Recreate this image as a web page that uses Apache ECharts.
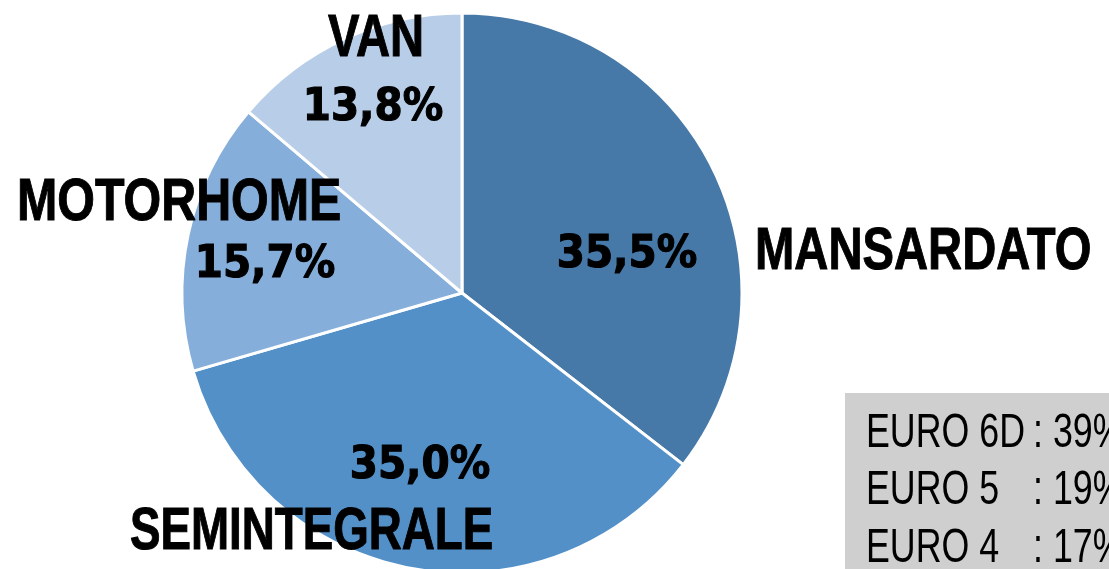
<!DOCTYPE html>
<html>
<head>
<meta charset="utf-8">
<script src="https://cdn.jsdelivr.net/npm/echarts@6/dist/echarts.min.js"></script>
<style>
html, body { margin: 0; padding: 0; background: #fff; }
#chart { width: 1109px; height: 569px; }
</style>
</head>
<body>
<div id="chart"></div>
<script>
// data
var categories = ['MANSARDATO', 'SEMINTEGRALE', 'MOTORHOME', 'VAN']
var shares = [35.5, 35.0, 15.7, 13.8]
var euroLabels = ['EURO 6D', 'EURO 5', 'EURO 4']
var euroValues = ['39%', '19%', '17%']

var colors = ['#4679a8', '#5390c8', '#85aedb', '#b8cde8']

function pct(v) {
    return v.toFixed(1).replace('.', ',') + '%'
}

// label placement per slice: [name x, name y, name align, name scale, pct x, pct y]
var labelPos = [
    [755, 253, 'left', 0.8, 627, 256],
    [130, 533, 'left', 0.775, 420, 467],
    [17, 204, 'left', 0.82, 265, 266],
    [376, 40, 'center', 0.8, 373, 109]
]

function txt(x, y, s, family, size, weight, align, sx, stroke) {
    return {
        type: 'text', x: x, y: y, z: 10, scaleX: sx,
        style: {
            text: s, fontFamily: family, fontSize: size, fontWeight: weight,
            fill: '#000', textAlign: align, textVerticalAlign: 'middle',
            stroke: stroke ? '#000' : null, lineWidth: stroke || 0
        }
    }
}

var chart = echarts.init(document.getElementById('chart'))

var graphic = [
    {
        type: 'rect',
        shape: { x: 845, y: 393, width: 300, height: 200 },
        style: { fill: '#d0cfd0' },
        z: 1
    }
]
categories.forEach(function(name, i) {
    var p = labelPos[i]
    graphic.push(txt(p[0], p[1], name, 'Liberation Sans', 59, 'bold', p[2], p[3], 1))
    graphic.push(txt(p[4], p[5], pct(shares[i]), 'DejaVu Sans', 44, 'bold', 'center', 0.92, 1.2))
})
euroLabels.forEach(function(lbl, i) {
    var y = 433 + i * 57.5
    graphic.push(txt(866, y, lbl, 'Liberation Sans', 49, 'normal', 'left', 0.73))
    graphic.push(txt(1033, y, ': ' + euroValues[i], 'Liberation Sans', 49, 'normal', 'left', 0.73))
})

var option = {
    animation: false,
    color: colors,
    graphic: graphic,
    series: [
        {
            type: 'pie',
            center: [462, 293],
            radius: 280,
            startAngle: 90,
            clockwise: true,
            label: { show: false },
            labelLine: { show: false },
            itemStyle: { borderColor: '#fff', borderWidth: 3 },
            data: categories.map(function(c, i) {
                return { name: c, value: shares[i] }
            })
        }
    ]
}

chart.setOption(option)
</script>
</body>
</html>
